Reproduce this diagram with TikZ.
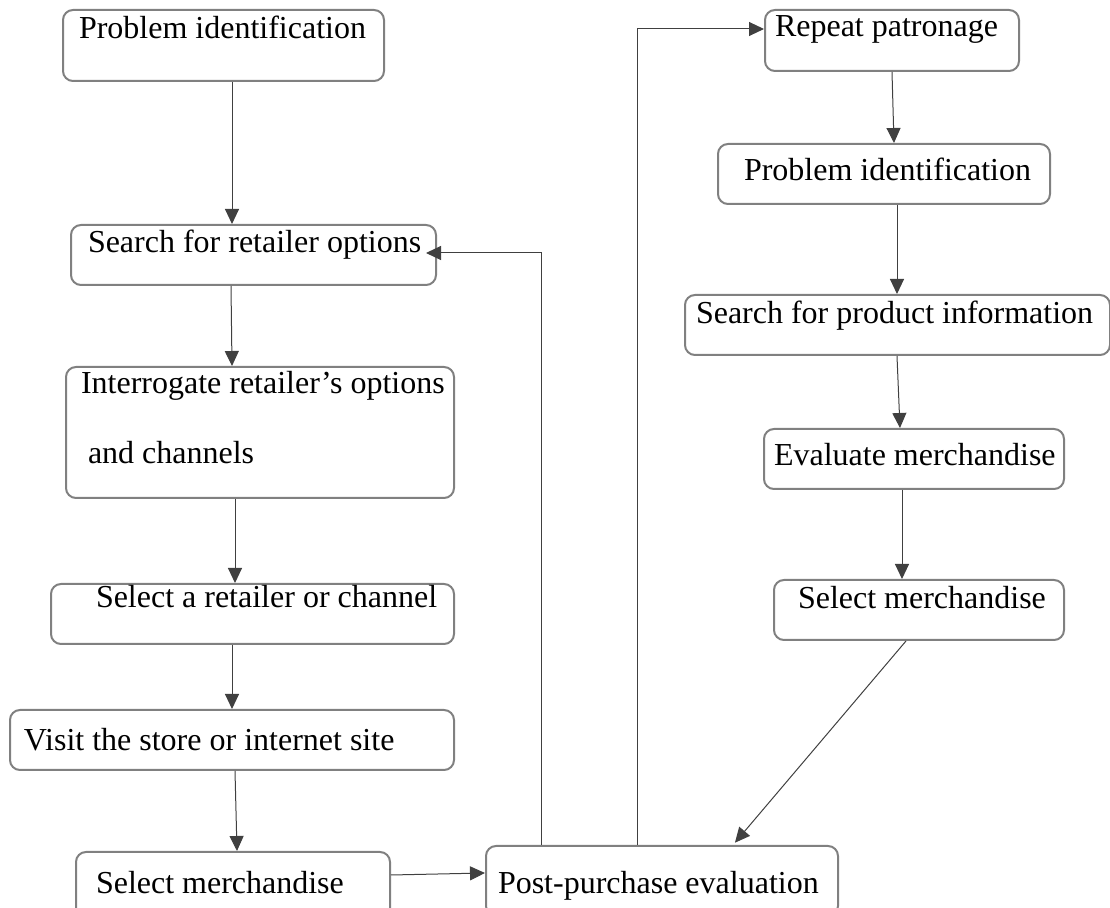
\documentclass[tikz,border=0pt]{standalone}
\usepackage{fontspec}
\setmainfont{Liberation Serif}
\usetikzlibrary{arrows.meta}

\definecolor{boxgray}{RGB}{128,128,128}
\definecolor{arrowgray}{RGB}{64,64,64}

\begin{document}
\begin{tikzpicture}[
    x=0.5pt, y=-0.5pt,
    stage/.style={
        draw=boxgray,
        line width=1pt,
        rounded corners=5pt,
        anchor=north west,
        align=left,
        inner sep=0pt,
        font=\fontsize{16}{19}\selectfont,
        execute at begin node={\spaceskip=4pt\relax}
    },
    arrow/.style={-{Triangle[length=7.5pt,width=7pt]}, line width=0.5pt, draw=arrowgray}
]
\useasboundingbox (0,0) rectangle (1110,908);

% Left column
\node[stage, text width=160.5pt, text height=14.5pt, text depth=21pt] (probA) at (62,9) {%
\hspace*{8pt}Problem identification};

\node[stage, text width=182.5pt, text height=14pt, text depth=16pt] (searchA) at (70,224) {%
\hspace*{8.5pt}Search for retailer options};

\node[stage, text width=194pt, text height=13.5pt, text depth=52pt] (interr) at (65,366) {%
\hspace*{7.5pt}Interrogate retailer’s options\\[16pt]
\hspace*{11pt}and channels};

\node[stage, text width=201.5pt, text height=12pt, text depth=18pt] (selret) at (50,583) {%
\hspace*{22.5pt}Select a retailer or channel};

\node[stage, text width=222pt, text height=20.5pt, text depth=9.5pt] (visit) at (9,709) {%
\hspace*{7pt}Visit the store or internet site};

\node[stage, text width=157pt, text height=21pt, text depth=12pt] (selmerA) at (75,851) {%
\hspace*{10pt}Select merchandise};

\node[stage, text width=176pt, text height=24pt, text depth=11pt] (post) at (485,845) {%
\hspace*{6pt}Post-purchase evaluation};

% Right column
\node[stage, text width=127pt, text height=13.5pt, text depth=17pt] (repeat) at (764,9) {%
\hspace*{5pt}Repeat patronage};

\node[stage, text width=166pt, text height=18.5pt, text depth=11.5pt] (probB) at (717,143) {%
\hspace*{13pt}Problem identification};

\node[stage, text width=212.5pt, text height=14.5pt, text depth=15.5pt] (searchB) at (684,294) {%
\hspace*{5.5pt}Search for product information};

\node[stage, text width=150pt, text height=18.5pt, text depth=11.5pt] (eval) at (763,428) {%
\hspace*{5pt}Evaluate merchandise};

\node[stage, text width=145pt, text height=14.5pt, text depth=15.5pt] (selmerB) at (773,579) {%
\hspace*{12pt}Select merchandise};

% Arrows
\draw[arrow] (probA.south -| 232,0) -- (searchA.north -| 232,0);
\draw[arrow] (searchA.south -| 231,0) -- (interr.north -| 232,0);
\draw[arrow] (interr.south -| 235,0) -- (selret.north -| 235,0);
\draw[arrow] (selret.south -| 232,0) -- (visit.north -| 232,0);
\draw[arrow] (visit.south -| 235,0) -- (selmerA.north -| 237,0);
\draw[arrow] (selmerA.east |- 0,875) -- (post.west |- 0,873);
\draw[arrow, shorten >=-5.5pt] (post.north -| 541,0) |- (searchA.east |- 0,253);
\draw[arrow] (post.north -| 637,0) |- (repeat.west |- 0,29);
\draw[arrow] (repeat.south -| 892,0) -- (probB.north -| 894,0);
\draw[arrow] (probB.south -| 897,0) -- (searchB.north -| 897,0);
\draw[arrow] (searchB.south -| 897,0) -- (eval.north -| 900,0);
\draw[arrow] (eval.south -| 902,0) -- (selmerB.north -| 902,0);
\draw[arrow, shorten >=1.5pt] (selmerB.south -| 906,0) -- (post.north -| 733,0);

\end{tikzpicture}
\end{document}
